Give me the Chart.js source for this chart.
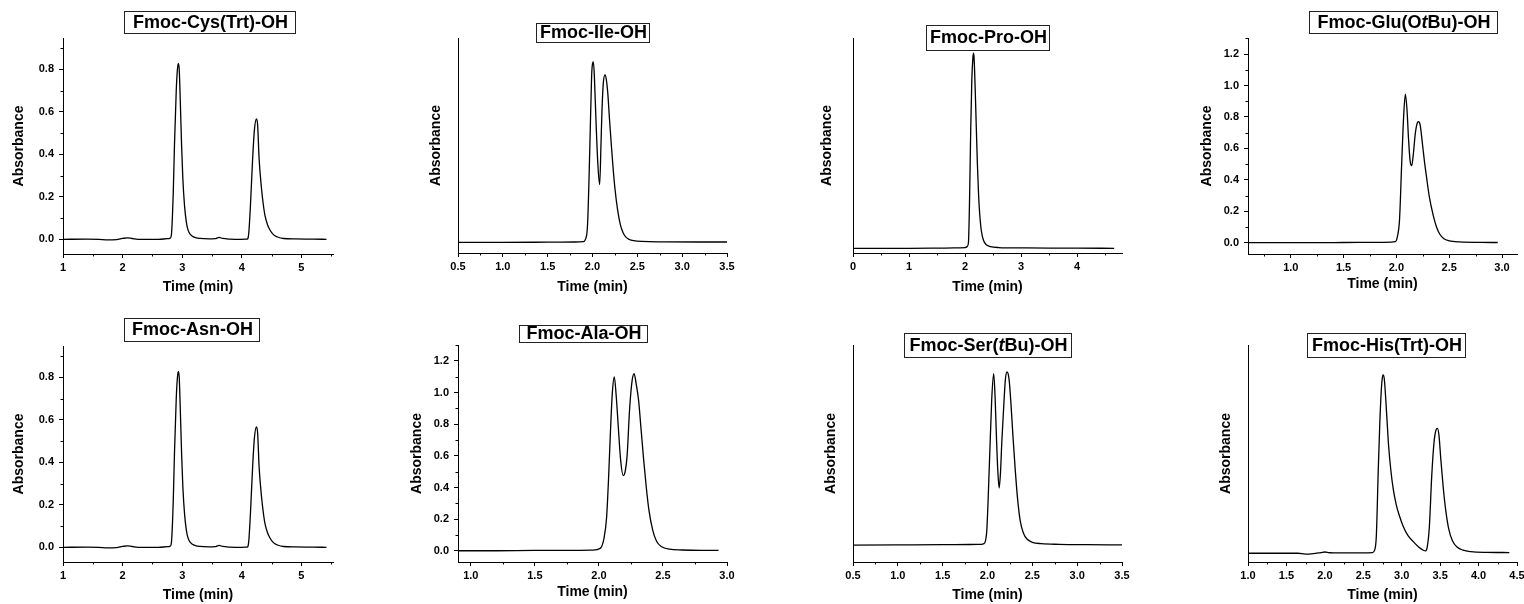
<!DOCTYPE html>
<html>
<head>
<meta charset="utf-8">
<title>HPLC traces of Fmoc amino acids</title>
<script src="https://cdn.jsdelivr.net/npm/chart.js@4.4.1/dist/chart.umd.min.js"></script>
<style>
  html, body { margin: 0; padding: 0; background: #fff; }
  body { width: 1524px; height: 604px; overflow: hidden; position: relative; }
</style>
</head>
<body>
<script>
// retention time (min) and absorbance for each run
var cysTime = [1.00, 1.40, 1.60, 1.75, 1.90, 2.00, 2.08, 2.16, 2.30, 2.60, 2.75, 2.80, 2.82, 2.85, 2.87, 2.90, 2.92, 2.935, 2.95, 2.97, 2.99, 3.01, 3.04, 3.07, 3.10, 3.14, 3.20, 3.30, 3.45, 3.55, 3.62, 3.68, 3.80, 4.00, 4.08, 4.10, 4.12, 4.145, 4.18, 4.21, 4.245, 4.265, 4.29, 4.33, 4.36, 4.39, 4.43, 4.47, 4.53, 4.60, 4.70, 4.90, 5.20, 5.42];
var cysAbs = [0.000, 0.001, 0.000, -0.003, -0.001, 0.004, 0.007, 0.004, 0.000, 0.000, 0.003, 0.006, 0.025, 0.22, 0.44, 0.70, 0.80, 0.828, 0.80, 0.63, 0.44, 0.29, 0.155, 0.08, 0.042, 0.022, 0.010, 0.004, 0.002, 0.003, 0.009, 0.004, 0.001, 0.000, 0.001, 0.003, 0.04, 0.16, 0.37, 0.51, 0.566, 0.54, 0.38, 0.24, 0.165, 0.11, 0.07, 0.045, 0.022, 0.011, 0.004, 0.002, 0.001, 0.000];

var asnTime = [1.00, 1.40, 1.60, 1.75, 1.90, 2.00, 2.08, 2.16, 2.30, 2.60, 2.75, 2.80, 2.82, 2.85, 2.87, 2.90, 2.92, 2.935, 2.95, 2.97, 2.99, 3.01, 3.04, 3.07, 3.10, 3.14, 3.20, 3.30, 3.45, 3.55, 3.62, 3.68, 3.80, 4.00, 4.08, 4.10, 4.12, 4.145, 4.18, 4.21, 4.245, 4.265, 4.29, 4.33, 4.36, 4.39, 4.43, 4.47, 4.53, 4.60, 4.70, 4.90, 5.20, 5.42];
var asnAbs = [0.000, 0.001, 0.000, -0.003, -0.001, 0.004, 0.007, 0.004, 0.000, 0.000, 0.003, 0.006, 0.025, 0.22, 0.44, 0.70, 0.80, 0.828, 0.80, 0.63, 0.44, 0.29, 0.155, 0.08, 0.042, 0.022, 0.010, 0.004, 0.002, 0.003, 0.009, 0.004, 0.001, 0.000, 0.001, 0.003, 0.04, 0.16, 0.37, 0.51, 0.566, 0.54, 0.38, 0.24, 0.165, 0.11, 0.07, 0.045, 0.022, 0.011, 0.004, 0.002, 0.001, 0.000];

var ileTime = [0.50, 1.00, 1.50, 1.80, 1.90, 1.92, 1.945, 1.97, 1.99, 2.00, 2.01, 2.02, 2.04, 2.06, 2.08, 2.095, 2.105, 2.12, 2.14, 2.155, 2.17, 2.19, 2.21, 2.23, 2.25, 2.28, 2.31, 2.34, 2.37, 2.41, 2.46, 2.55, 2.80, 3.20, 3.50];
var ileAbs = [0.000, 0.000, 0.001, 0.002, 0.004, 0.015, 0.10, 0.52, 0.92, 0.99, 1.00, 0.93, 0.66, 0.43, 0.32, 0.55, 0.72, 0.88, 0.928, 0.90, 0.83, 0.68, 0.54, 0.41, 0.30, 0.18, 0.10, 0.055, 0.03, 0.016, 0.009, 0.005, 0.003, 0.002, 0.002];

var proTime = [0.00, 0.50, 1.00, 1.50, 1.80, 2.00, 2.04, 2.06, 2.08, 2.10, 2.12, 2.14, 2.15, 2.16, 2.18, 2.20, 2.22, 2.24, 2.26, 2.29, 2.33, 2.38, 2.45, 2.60, 3.00, 3.50, 4.00, 4.66];
var proAbs = [0.000, 0.000, 0.000, 0.001, 0.002, 0.004, 0.010, 0.03, 0.25, 0.60, 0.86, 0.98, 1.00, 0.98, 0.82, 0.62, 0.43, 0.28, 0.18, 0.09, 0.04, 0.018, 0.009, 0.004, 0.002, 0.001, 0.001, 0.000];

var gluTime = [0.60, 1.00, 1.50, 1.80, 1.95, 1.99, 2.01, 2.03, 2.05, 2.07, 2.085, 2.10, 2.115, 2.13, 2.145, 2.16, 2.18, 2.20, 2.21, 2.225, 2.245, 2.265, 2.285, 2.31, 2.35, 2.38, 2.41, 2.45, 2.50, 2.60, 2.80, 2.96];
var gluAbs = [0.000, 0.000, 0.001, 0.002, 0.003, 0.006, 0.04, 0.15, 0.50, 0.82, 0.945, 0.85, 0.66, 0.52, 0.49, 0.56, 0.70, 0.765, 0.77, 0.75, 0.64, 0.52, 0.42, 0.30, 0.17, 0.10, 0.055, 0.025, 0.012, 0.005, 0.002, 0.001];

var alaTime = [0.90, 1.20, 1.50, 1.80, 1.95, 2.01, 2.04, 2.06, 2.075, 2.09, 2.105, 2.12, 2.135, 2.15, 2.17, 2.19, 2.205, 2.22, 2.24, 2.26, 2.275, 2.29, 2.31, 2.33, 2.35, 2.37, 2.39, 2.42, 2.45, 2.49, 2.55, 2.65, 2.80, 2.934];
var alaAbs = [0.000, 0.000, 0.002, 0.002, 0.004, 0.015, 0.08, 0.21, 0.45, 0.75, 1.00, 1.10, 0.98, 0.80, 0.57, 0.475, 0.50, 0.60, 0.90, 1.08, 1.12, 1.06, 0.95, 0.76, 0.57, 0.40, 0.26, 0.13, 0.06, 0.025, 0.010, 0.005, 0.003, 0.003];

var serTime = [0.50, 1.00, 1.50, 1.80, 1.93, 1.96, 1.99, 2.02, 2.047, 2.069, 2.085, 2.10, 2.115, 2.13, 2.145, 2.16, 2.185, 2.20, 2.218, 2.24, 2.26, 2.285, 2.31, 2.335, 2.365, 2.40, 2.44, 2.50, 2.60, 2.80, 3.10, 3.50];
var serAbs = [0.000, 0.001, 0.002, 0.003, 0.004, 0.008, 0.07, 0.45, 0.84, 0.99, 0.85, 0.62, 0.43, 0.33, 0.42, 0.60, 0.84, 0.96, 1.00, 0.96, 0.83, 0.62, 0.43, 0.27, 0.14, 0.07, 0.035, 0.016, 0.008, 0.004, 0.002, 0.001];

var hisTime = [1.00, 1.40, 1.65, 1.75, 1.85, 1.95, 2.00, 2.06, 2.20, 2.50, 2.62, 2.65, 2.67, 2.695, 2.715, 2.735, 2.75, 2.76, 2.775, 2.80, 2.83, 2.86, 2.89, 2.93, 2.97, 3.02, 3.08, 3.15, 3.22, 3.28, 3.31, 3.33, 3.36, 3.39, 3.42, 3.445, 3.465, 3.485, 3.51, 3.54, 3.57, 3.61, 3.66, 3.72, 3.80, 3.90, 4.10, 4.40];
var hisAbs = [0.000, 0.000, 0.000, -0.005, -0.002, 0.004, 0.007, 0.003, 0.002, 0.002, 0.004, 0.02, 0.10, 0.47, 0.73, 0.92, 0.99, 1.00, 0.97, 0.81, 0.60, 0.46, 0.36, 0.27, 0.21, 0.15, 0.10, 0.065, 0.035, 0.017, 0.013, 0.03, 0.15, 0.43, 0.62, 0.69, 0.70, 0.66, 0.52, 0.37, 0.25, 0.14, 0.07, 0.035, 0.017, 0.009, 0.005, 0.004];

// tick labels
var cysXTicks = [1, 2, 3, 4, 5];
var cysYTicks = [0.0, 0.2, 0.4, 0.6, 0.8];
var halfXTicks = [0.5, 1.0, 1.5, 2.0, 2.5, 3.0, 3.5];
var proXTicks = [0, 1, 2, 3, 4];
var gluXTicks = [1.0, 1.5, 2.0, 2.5, 3.0];
var gluYTicks = [0.0, 0.2, 0.4, 0.6, 0.8, 1.0, 1.2];
var alaXTicks = [1.0, 1.5, 2.0, 2.5, 3.0];
var hisXTicks = [1.0, 1.5, 2.0, 2.5, 3.0, 3.5, 4.0, 4.5];

// page layout of each panel: plot area [left, top, right, bottom], title box [x, y, w, h]
var panels = [
  { title: [['Fmoc-Cys(Trt)-OH', false]], time: cysTime, abs: cysAbs,
    area: [63, 38, 333, 254], x: [1, 5.53], y: [-0.069, 0.947],
    xTicks: cysXTicks, yTicks: cysYTicks, xDigits: 0, xMinor: 0.5, yMinor: 0.1,
    box: [124, 11, 171, 22], yTitleX: 19, xTitleY: 287 },
  { title: [['Fmoc-Ile-OH', false]], time: ileTime, abs: ileAbs,
    area: [458, 38, 727, 253], x: [0.5, 3.5], y: [-0.059, 1.133],
    xTicks: halfXTicks, yTicks: null, xDigits: 1, xMinor: 0.25,
    box: [536, 23, 113, 19], yTitleX: 436, xTitleY: 287 },
  { title: [['Fmoc-Pro-OH', false]], time: proTime, abs: proAbs,
    area: [853, 38, 1122, 253], x: [0, 4.8], y: [-0.024, 1.078],
    xTicks: proXTicks, yTicks: null, xDigits: 0, xMinor: 0.5,
    box: [926, 25, 123, 25], yTitleX: 827, xTitleY: 287 },
  { title: [['Fmoc-Glu(O', false], ['t', true], ['Bu)-OH', false]], time: gluTime, abs: gluAbs,
    area: [1248, 38, 1517, 254], x: [0.595, 3.142], y: [-0.072, 1.302],
    xTicks: gluXTicks, yTicks: gluYTicks, xDigits: 1, xMinor: 0.25, yMinor: 0.1,
    box: [1309, 11, 188, 22], yTitleX: 1207, xTitleY: 284 },
  { title: [['Fmoc-Asn-OH', false]], time: asnTime, abs: asnAbs,
    area: [63, 346, 333, 562], x: [1, 5.53], y: [-0.069, 0.947],
    xTicks: cysXTicks, yTicks: cysYTicks, xDigits: 0, xMinor: 0.5, yMinor: 0.1,
    box: [124, 318, 135, 23], yTitleX: 19, xTitleY: 595 },
  { title: [['Fmoc-Ala-OH', false]], time: alaTime, abs: alaAbs,
    area: [458, 345, 727, 562], x: [0.9, 3.0], y: [-0.071, 1.301],
    xTicks: alaXTicks, yTicks: gluYTicks, xDigits: 1, xMinor: 0.25, yMinor: 0.1,
    box: [519, 325, 128, 17], yTitleX: 417, xTitleY: 592 },
  { title: [['Fmoc-Ser(', false], ['t', true], ['Bu)-OH', false]], time: serTime, abs: serAbs,
    area: [853, 345, 1122, 562], x: [0.5, 3.5], y: [-0.098, 1.156],
    xTicks: halfXTicks, yTicks: null, xDigits: 1, xMinor: 0.25,
    box: [904, 333, 167, 24], yTitleX: 831, xTitleY: 595 },
  { title: [['Fmoc-His(Trt)-OH', false]], time: hisTime, abs: hisAbs,
    area: [1248, 345, 1517, 562], x: [1.0, 4.5], y: [-0.049, 1.168],
    xTicks: hisXTicks, yTicks: null, xDigits: 1, xMinor: 0.25,
    box: [1307, 333, 158, 24], yTitleX: 1226, xTitleY: 595 }
];

var FONT = '"Liberation Sans", Arial, Helvetica, sans-serif';
Chart.defaults.font.family = FONT;
Chart.defaults.color = '#000';

var AXW = 64, PADR = 14, PADT = 40, AXH = 50;

// short unlabeled ticks between the labeled ones
var minorTicks = {
  id: 'minorTicks',
  afterDraw: function (chart, args, opts) {
    var ctx = chart.ctx;
    ctx.save();
    ctx.strokeStyle = '#000';
    ctx.lineWidth = 1;
    ['x', 'y'].forEach(function (id) {
      var step = opts[id];
      if (!step) return;
      var scale = chart.scales[id];
      var majors = scale.ticks.map(function (t) { return t.value; });
      var k0 = Math.ceil(scale.min / step - 1e-6), k1 = Math.floor(scale.max / step + 1e-6);
      for (var k = k0; k <= k1; k++) {
        var v = Math.round(k * step * 1000) / 1000;
        if (majors.some(function (m) { return Math.abs(m - v) < 1e-6; })) continue;
        var p = Math.round(scale.getPixelForValue(v)) + 0.5;
        ctx.beginPath();
        if (id === 'x') {
          ctx.moveTo(p, chart.chartArea.bottom);
          ctx.lineTo(p, chart.chartArea.bottom + 2.5);
        } else {
          ctx.moveTo(chart.chartArea.left, p);
          ctx.lineTo(chart.chartArea.left - 2.5, p);
        }
        ctx.stroke();
      }
    });
    ctx.restore();
  }
};

// compound name in an outlined box, with optional italic pieces
var boxTitle = {
  id: 'boxTitle',
  afterDraw: function (chart, args, opts) {
    var ctx = chart.ctx;
    var b = opts.box;
    ctx.save();
    ctx.strokeStyle = '#222';
    ctx.lineWidth = 1;
    ctx.strokeRect(b[0] + 0.5, b[1] + 0.5, b[2], b[3]);
    var fonts = opts.parts.map(function (pt) {
      return (pt[1] ? 'italic ' : '') + 'bold 18px ' + FONT;
    });
    var total = 0;
    opts.parts.forEach(function (pt, i) {
      ctx.font = fonts[i];
      total += ctx.measureText(pt[0]).width;
    });
    var x = b[0] + b[2] / 2 - total / 2 + 1;
    var y = b[1] + b[3] / 2 + 1;
    ctx.fillStyle = '#000';
    ctx.textBaseline = 'middle';
    ctx.textAlign = 'left';
    opts.parts.forEach(function (pt, i) {
      ctx.font = fonts[i];
      ctx.fillText(pt[0], x, y);
      x += ctx.measureText(pt[0]).width;
    });
    ctx.restore();
  }
};

panels.forEach(function (p) {
  var L = p.area[0], T = p.area[1], R = p.area[2], B = p.area[3];
  var cl = L - AXW, ct = T - PADT;
  var w = R - L + AXW + PADR, h = B - T + PADT + AXH;

  var canvas = document.createElement('canvas');
  canvas.width = w;
  canvas.height = h;
  canvas.style.cssText = 'position:absolute;left:' + cl + 'px;top:' + ct + 'px;width:' + w + 'px;height:' + h + 'px;';
  document.body.appendChild(canvas);

  var points = p.time.map(function (t, i) { return { x: t, y: p.abs[i] }; });
  var showY = !!p.yTicks;

  var yScale = {
    type: 'linear',
    min: p.y[0],
    max: p.y[1],
    ticks: {
      display: showY,
      font: { size: 11, weight: 'bold' },
      padding: 5,
      callback: function (v) { return v.toFixed(1); }
    },
    grid: { drawOnChartArea: false, drawTicks: showY, tickLength: 4, color: '#000' },
    border: { display: true, color: '#000', width: 1 },
    title: {
      display: true,
      text: 'Absorbance',
      font: { size: 14, weight: 'bold' },
      padding: { top: p.yTitleX - cl - 8.4, bottom: 0 }
    },
    afterFit: function (s) { s.width = AXW; }
  };
  if (showY) {
    yScale.afterBuildTicks = function (s) {
      s.ticks = p.yTicks.map(function (v) { return { value: v }; });
    };
  }

  new Chart(canvas, {
    type: 'line',
    data: {
      datasets: [{
        data: points,
        borderColor: '#000',
        borderWidth: 1.3,
        pointRadius: 0,
        fill: false,
        cubicInterpolationMode: 'monotone'
      }]
    },
    options: {
      responsive: false,
      animation: false,
      events: [],
      layout: { padding: { left: 0, top: PADT, right: PADR, bottom: 0 } },
      plugins: {
        legend: { display: false },
        tooltip: { enabled: false },
        minorTicks: { x: p.xMinor, y: showY ? p.yMinor : 0 },
        boxTitle: { parts: p.title, box: [p.box[0] - cl, p.box[1] - ct, p.box[2], p.box[3]] }
      },
      scales: {
        x: {
          type: 'linear',
          min: p.x[0],
          max: p.x[1],
          afterBuildTicks: function (s) {
            s.ticks = p.xTicks.map(function (v) { return { value: v }; });
          },
          ticks: {
            font: { size: 11, weight: 'bold' },
            padding: 3,
            maxRotation: 0,
            autoSkip: false,
            callback: function (v) { return v.toFixed(p.xDigits); }
          },
          grid: { drawOnChartArea: false, tickLength: 4, color: '#000' },
          border: { display: true, color: '#000', width: 1 },
          title: {
            display: true,
            text: 'Time (min)',
            font: { size: 14, weight: 'bold' },
            padding: { top: 0, bottom: (B + AXH) - p.xTitleY - 8.4 }
          },
          afterFit: function (s) { s.height = AXH; }
        },
        y: yScale
      }
    },
    plugins: [minorTicks, boxTitle]
  });
});
</script>
</body>
</html>
